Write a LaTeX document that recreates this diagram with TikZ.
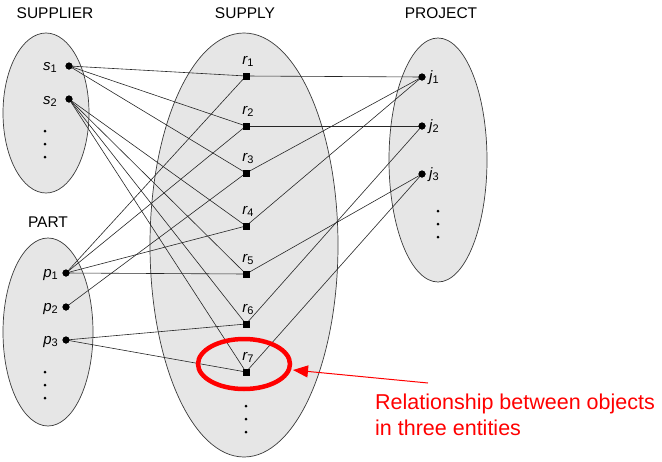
\documentclass[tikz,border=0pt]{standalone}
\usepackage{fontspec}
\setmainfont{Liberation Sans}
\usetikzlibrary{arrows.meta}
\definecolor{setgray}{HTML}{E6E6E6}
\definecolor{edgegray}{HTML}{3A3A3A}
\newcommand{\lbl}[2]{{\itshape #1}\raisebox{-2.5pt}{\fontsize{11}{11}\selectfont #2}}
\begin{document}
\begin{tikzpicture}[x=1pt,y=-1pt,
  setshape/.style={fill=setgray,draw=edgegray,line width=0.7pt},
  title/.style={font=\fontsize{15.5}{18}\selectfont,inner sep=0pt},
  elem/.style={circle,fill=black,inner sep=0pt,minimum size=7pt},
  rel/.style={rectangle,fill=black,inner sep=0pt,minimum size=7pt},
  lab/.style={font=\fontsize{15}{18}\selectfont,inner sep=0pt},
  link/.style={draw=black!85,line width=0.6pt},
  tinydot/.style={fill=black}
]
\useasboundingbox (0,0) rectangle (662,461);
% sets
\draw[setshape] (46,113) ellipse [x radius=43pt, y radius=80pt];
\draw[setshape] (48,332) ellipse [x radius=45pt, y radius=94pt];
\draw[setshape] (244,245) ellipse [x radius=94pt, y radius=212pt];
\draw[setshape] (438,160) ellipse [x radius=49pt, y radius=122pt];
% titles
\node[title] (tsup) at (55,13) {SUPPLIER};
\node[title] (tsupply) at (245,13) {SUPPLY};
\node[title] (tproj) at (441,13) {PROJECT};
\node[title] (tpart) at (48,222) {PART};
% elements
\node[elem] (s1) at (69,66) {};
\node[elem] (s2) at (69,99) {};
\node[elem] (p1) at (66,273) {};
\node[elem] (p2) at (66,307) {};
\node[elem] (p3) at (66,340) {};
\node[elem] (j1) at (422,77) {};
\node[elem] (j2) at (422,126) {};
\node[elem] (j3) at (422,174) {};
\foreach \i/\y in {1/76,2/126,3/173,4/226,5/274,6/324,7/372}{
  \node[rel] (r\i) at (246,\y) {};
  \node[lab,anchor=base] (lr\i) at (248,\y-12) {\lbl{r}{\i}};
}
% labels
\node[lab,anchor=base east] (ls1) at (57,70) {\lbl{s}{1}};
\node[lab,anchor=base east] (ls2) at (57,104) {\lbl{s}{2}};
\node[lab,anchor=base east] (lp1) at (58,277) {\lbl{p}{1}};
\node[lab,anchor=base east] (lp2) at (58,311) {\lbl{p}{2}};
\node[lab,anchor=base east] (lp3) at (58,344) {\lbl{p}{3}};
\node[lab,anchor=base west] (lj1) at (429,81) {\lbl{j}{1}};
\node[lab,anchor=base west] (lj2) at (429,130) {\lbl{j}{2}};
\node[lab,anchor=base west] (lj3) at (429,178) {\lbl{j}{3}};
% ellipsis dots
\foreach \y in {131,144,157} \fill[tinydot] (45,\y) circle (1.5pt);
\foreach \y in {372,385,398} \fill[tinydot] (45,\y) circle (1.5pt);
\foreach \y in {406,419,432} \fill[tinydot] (246,\y) circle (1.5pt);
\foreach \y in {211,224,237} \fill[tinydot] (438,\y) circle (1.5pt);
% links
\foreach \a/\b in {s1/r1,s1/r2,s1/r3,s2/r4,s2/r5,s2/r6,s2/r7,
                   p1/r1,p1/r2,p1/r4,p1/r5,p2/r3,p3/r6,p3/r7,
                   r1/j1,r2/j2,r3/j1,r4/j1,r5/j3,r6/j2,r7/j3}
  \draw[link] (\a.center) -- (\b.center);
% redraw dots on top
\foreach \n in {s1,s2,p1,p2,p3,j1,j2,j3} \fill (\n.center) circle (3.5pt);
\foreach \i in {1,...,7} \fill (r\i.center) +(-3.5pt,-3.5pt) rectangle +(3.5pt,3.5pt);
% highlight
\draw[red,line width=4.5pt] (244,364) ellipse [x radius=46pt, y radius=25pt];
\coordinate (hlr) at (293,370);
\node[text=red,font=\fontsize{21.5}{26}\selectfont,anchor=north west,align=left,inner sep=0pt] (note) at (375,394) {Relationship between objects\\in three entities};
\coordinate (tail) at (428,383);
\draw[red,line width=1pt,-{Triangle[length=15pt,width=12pt]}] (tail) -- (hlr);
\end{tikzpicture}
\end{document}
